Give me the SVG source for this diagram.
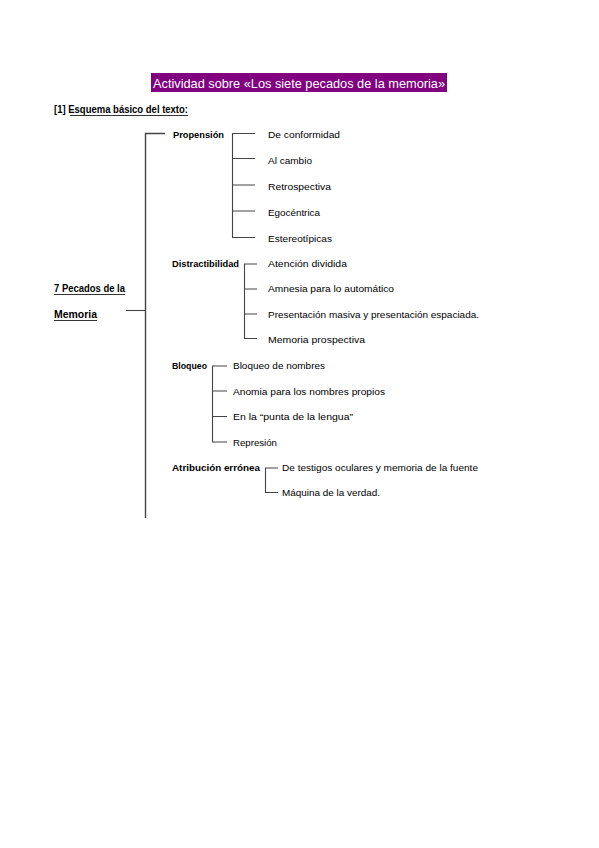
<svg xmlns="http://www.w3.org/2000/svg" width="599" height="848" viewBox="0 0 599 848">
<style>
text{font-family:"Liberation Sans",Arial,sans-serif;fill:#000}
.it{font-size:9.3px}
.cat{font-size:9.5px;font-weight:bold}
.hd{font-size:10px;font-weight:bold}
.ln{stroke:#444;stroke-width:1.1;fill:none}
.ul{stroke:#000;stroke-width:0.8}
</style>
<rect width="599" height="848" fill="#fff"/>
<g id="title">
<rect x="151" y="73" width="296" height="19" fill="#800080"/>
<text x="153" y="87.5" font-size="13" fill="#fff" style="fill:#fff" textLength="292" lengthAdjust="spacingAndGlyphs">Actividad sobre «Los siete pecados de la memoria»</text>
</g>
<g id="heading">
<text class="hd" x="54" y="113" textLength="134" lengthAdjust="spacingAndGlyphs">[1] Esquema básico del texto:</text>
<line class="ul" x1="70" y1="115.5" x2="188" y2="115.5"/>
</g>
<g id="connectors">
<path class="ln" style="stroke-width:1.4" d="M165 133.5H145.5V518"/>
<path class="ln" d="M126 310.5H145.5"/>
<path class="ln" d="M255 133.5H232.5V237.5H255M232.5 158.5H255M232.5 185H255M232.5 211H255"/>
<path class="ln" d="M257 264H244.5V338.5H257M244.5 289H257M244.5 314H257"/>
<path class="ln" d="M227 366H212.5V442H227M212.5 391H227M212.5 416.5H227"/>
<path class="ln" d="M278 468H265.5V492.5H278"/>
</g>
<g id="root">
<text class="hd" x="54" y="292" textLength="71" lengthAdjust="spacingAndGlyphs">7 Pecados de la</text>
<line class="ul" x1="54" y1="294.5" x2="125" y2="294.5"/>
<text class="hd" x="54" y="318" textLength="43" lengthAdjust="spacingAndGlyphs">Memoria</text>
<line class="ul" x1="54" y1="320.5" x2="97" y2="320.5"/>
</g>
<g id="propension">
<text class="cat" x="173" y="138" textLength="51" lengthAdjust="spacingAndGlyphs">Propensión</text>
<text class="it" x="268" y="138" textLength="72" lengthAdjust="spacingAndGlyphs">De conformidad</text>
<text class="it" x="268" y="164" textLength="44" lengthAdjust="spacingAndGlyphs">Al cambio</text>
<text class="it" x="268" y="190" textLength="63" lengthAdjust="spacingAndGlyphs">Retrospectiva</text>
<text class="it" x="268" y="216" textLength="52" lengthAdjust="spacingAndGlyphs">Egocéntrica</text>
<text class="it" x="268" y="242" textLength="64" lengthAdjust="spacingAndGlyphs">Estereotípicas</text>
</g>
<g id="distractibilidad">
<text class="cat" x="172" y="267" textLength="67" lengthAdjust="spacingAndGlyphs">Distractibilidad</text>
<text class="it" x="268" y="267" textLength="79" lengthAdjust="spacingAndGlyphs">Atención dividida</text>
<text class="it" x="268" y="292" textLength="126" lengthAdjust="spacingAndGlyphs">Amnesia para lo automático</text>
<text class="it" x="268" y="318" textLength="211" lengthAdjust="spacingAndGlyphs">Presentación masiva y presentación espaciada.</text>
<text class="it" x="268" y="343" textLength="97" lengthAdjust="spacingAndGlyphs">Memoria prospectiva</text>
</g>
<g id="bloqueo">
<text class="cat" x="172" y="369" textLength="35" lengthAdjust="spacingAndGlyphs">Bloqueo</text>
<text class="it" x="233" y="369" textLength="92" lengthAdjust="spacingAndGlyphs">Bloqueo de nombres</text>
<text class="it" x="233" y="395" textLength="152" lengthAdjust="spacingAndGlyphs">Anomia para los nombres propios</text>
<text class="it" x="233" y="420" textLength="120" lengthAdjust="spacingAndGlyphs">En la “punta de la lengua”</text>
<text class="it" x="233" y="446" textLength="44" lengthAdjust="spacingAndGlyphs">Represión</text>
</g>
<g id="atribucion">
<text class="cat" x="172" y="471" textLength="88" lengthAdjust="spacingAndGlyphs">Atribución errónea</text>
<text class="it" x="282" y="471" textLength="196" lengthAdjust="spacingAndGlyphs">De testigos oculares y memoria de la fuente</text>
<text class="it" x="282" y="496" textLength="98" lengthAdjust="spacingAndGlyphs">Máquina de la verdad.</text>
</g>
</svg>
